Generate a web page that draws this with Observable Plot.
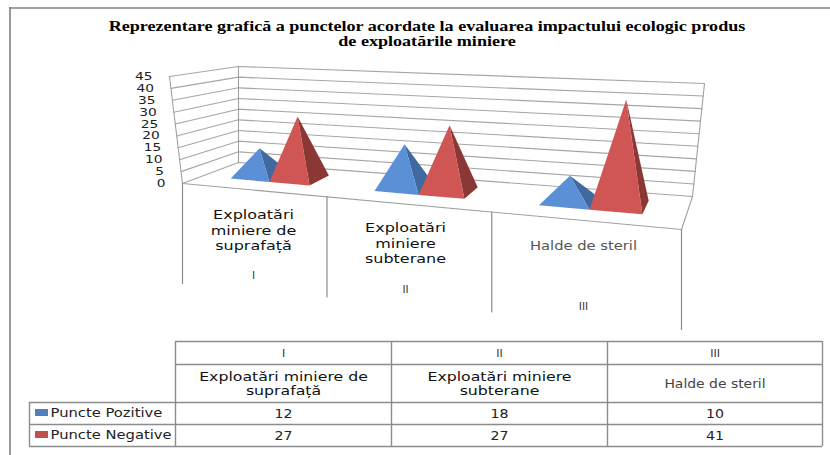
<!DOCTYPE html>
<html><head><meta charset="utf-8">
<style>html,body{margin:0;padding:0;background:#fff}svg{display:block}</style>
<script src="https://cdn.jsdelivr.net/npm/d3@7"></script>
<script src="https://cdn.jsdelivr.net/npm/@observablehq/plot@0.6"></script>
</head><body><script>
const categories = ["Exploatări miniere de suprafață", "Exploatări miniere subterane", "Halde de steril"];
const axisLabels = ["Exploatări\nminiere de\nsuprafață", "Exploatări\nminiere\nsubterane", "Halde de steril"];
const tableLabels = ["Exploatări miniere de\nsuprafață", "Exploatări miniere\nsubterane", "Halde de steril"];
const romans = ["I", "II", "III"];
const seriesNames = ["Puncte Pozitive", "Puncte Negative"];
const pozitive = [12, 18, 10];
const negative = [27, 27, 41];
const valueTicks = [0, 5, 10, 15, 20, 25, 30, 35, 40, 45];
const title = "Reprezentare grafică a punctelor acordate la evaluarea impactului ecologic produs\nde exploatările miniere";

// 3D chart box corners on the page (oblique perspective view)
const box = {
  fl: [182, 183], fr: [681, 229], bl: [238, 162], br: [692, 196],
  tfl: [169, 76], tfr: [688, 103], tbl: [238, 66], tbr: [704, 83]
};
const vMax = 45;
const lerp = (a, b, t) => [a[0] + (b[0] - a[0]) * t, a[1] + (b[1] - a[1]) * t];
// c: category position 0..3, d: depth 0..1, w: value
function project(c, d, w) {
  const t = c / 3, u = 0.815 * t / (1 - 0.185 * t), h = w / vMax;
  const floor = lerp(lerp(box.fl, box.fr, u), lerp(box.bl, box.br, u), d);
  const top = lerp(lerp(box.tfl, box.tfr, u), lerp(box.tbl, box.tbr, u), d);
  return lerp(floor, top, h);
}
const P = (c, d, w, extra) => { const [x, y] = project(c, d, w); return {x, y, ...extra}; };

// gridlines and box outline
const gridPts = valueTicks.flatMap(v => [P(0, 0, v, {v}), P(0, 1, v, {v}), P(3, 1, v, {v})]);
const outline = [[P(0,1,0), P(0,1,vMax)], [P(0,0,0), P(0,0,vMax)], [P(3,1,0), P(3,1,vMax)],
                 [P(0,0,0), P(3,0,0), P(3,1,0)]]
  .flatMap((seg, i) => seg.map(p => ({...p, i})));
const dividers = [0, 1, 2, 3].flatMap(c => { const p = P(c, 0, 0); return [{...p, c}, {x: p.x, y: p.y + 100, c}]; });

// pyramids
const gap = 0.215, bw = 0.282, d0 = 0.35, d1 = 0.77;
const colors = {front: ["#5b90d6", "#cf5654"], side: ["#3f699f", "#8b3735"]};
const faces = [];
categories.forEach((_, i) => {
  [pozitive[i], negative[i]].forEach((val, s) => {
    const c0 = i + gap + s * bw, c1 = c0 + bw, cm = (c0 + c1) / 2, dm = (d0 + d1) / 2;
    const apex = P(cm, dm, val), fl = P(c0, d0, 0), fr = P(c1, d0, 0), br = P(c1, d1, 0);
    const add = (pts, fill, key) => pts.forEach(p => faces.push({...p, key: `${i}-${s}-${key}`, fill}));
    add([fr, br, apex], colors.side[s], "r");
    add([fl, fr, apex], colors.front[s], "f");
  });
});

// data table
const colX = [175, 391, 607, 822], rowY = [341, 364, 402, 424, 446], legendX = 29;
const gray = "#8c8c8c";
const hLines = [
  {x1: colX[0], x2: colX[3], y: rowY[0]}, {x1: colX[0], x2: colX[3], y: rowY[1]},
  {x1: legendX, x2: colX[3], y: rowY[2]}, {x1: legendX, x2: colX[3], y: rowY[3]},
  {x1: legendX, x2: colX[3], y: rowY[4]}
];
const vLines = [
  {x: legendX, y1: rowY[2], y2: rowY[4]},
  ...colX.map(x => ({x, y1: rowY[0], y2: rowY[4]}))
];
const romanCells = [], labelCells = [], valueCells = [];
categories.forEach((_, i) => {
  const x = (colX[i] + colX[i + 1]) / 2;
  romanCells.push({x, y: (rowY[0] + rowY[1]) / 2, t: romans[i]});
  labelCells.push({x, y: (rowY[1] + rowY[2]) / 2, t: tableLabels[i], fs: i == 2 ? 11.5 : 13, f: i == 2 ? "#444" : "#111"});
  valueCells.push({x, y: (rowY[2] + rowY[3]) / 2, t: String(pozitive[i])});
  valueCells.push({x, y: (rowY[3] + rowY[4]) / 2, t: String(negative[i])});
});
const legendRows = seriesNames.map((n, i) => ({n, y: (rowY[2 + i] + rowY[3 + i]) / 2, fill: ["#4f81bd", "#c0504d"][i]}));

const axisPos = [
  {x: 253, y: 229, ry: 275, f: "#111", fs: 12.5}, {x: 405, y: 242, ry: 289, f: "#111", fs: 12.5}, {x: 583, y: 245, ry: 306, f: "#555", fs: 11.5}
].map((p, i) => ({...p, t: axisLabels[i], r: romans[i]}));

const plot = Plot.plot({
  width: 830, height: 455, margin: 0,
  x: {type: "linear", domain: [0, 830], range: [0, 830], axis: null},
  y: {type: "linear", domain: [0, 455], range: [0, 455], axis: null},
  style: {background: "#fff"},
  marks: [
    // page frame
    Plot.ruleY([7.5], {x1: 9, x2: 830, stroke: "#808080", strokeWidth: 1.6}),
    Plot.ruleX([9.5], {y1: 7, y2: 455, stroke: "#808080", strokeWidth: 1.6}),
    // title
    Plot.text([title], {x: 426.5, y: 33, text: d => d, fontFamily: "Liberation Serif", fontWeight: "bold",
      fontSize: 13.6, lineHeight: 1.12, fill: "#000", className: "st133"}),
    // 3D box
    Plot.line(gridPts, {x: "x", y: "y", z: "v", stroke: "#a6a6a6", strokeWidth: 1.1}),
    Plot.line(outline, {x: "x", y: "y", z: "i", stroke: "#a0a0a0", strokeWidth: 1.1}),
    Plot.line(dividers, {x: "x", y: "y", z: "c", stroke: "#8c8c8c", strokeWidth: 1.2}),
    // pyramids
    Plot.line(faces, {x: "x", y: "y", z: "key", fill: "fill", stroke: "none", curve: "linear-closed"}),
    // value axis
    Plot.text(valueTicks, {
      x: v => project(0, 0, v)[0] - 17, y: v => project(0, 0, v)[1],
      text: d => String(d), textAnchor: "end", fontFamily: "DejaVu Sans", fontSize: 11, fill: "#222", className: "st125"}),
    // category axis
    Plot.text(axisPos, {x: "x", y: "y", text: "t", fontFamily: "DejaVu Sans", fontSize: "fs", lineHeight: 1.27, fill: "f", className: "st128"}),
    Plot.text(axisPos, {x: "x", y: "ry", text: "r", fontFamily: "DejaVu Sans", fontSize: 10.5, fill: "#333"}),
    // table
    Plot.ruleY(hLines, {x1: "x1", x2: "x2", y: "y", stroke: gray, strokeWidth: 1.4}),
    Plot.ruleX(vLines, {x: "x", y1: "y1", y2: "y2", stroke: gray, strokeWidth: 1.4}),
    Plot.text(romanCells, {x: "x", y: "y", text: "t", fontSize: 11, fontFamily: "DejaVu Sans", fill: "#333"}),
    Plot.text(labelCells, {x: "x", y: "y", text: "t", fontSize: "fs", fontFamily: "DejaVu Sans", lineHeight: 1.1, fill: "f", className: "st121"}),
    Plot.text(valueCells, {x: "x", y: "y", text: "t", fontSize: 12.5, fontFamily: "DejaVu Sans", fill: "#222", className: "st113"}),
    Plot.rect(legendRows, {x1: 35, x2: 48, y1: d => d.y - 4, y2: d => d.y + 3, fill: "fill"}),
    Plot.text(legendRows, {x: 50, y: "y", text: "n", textAnchor: "start", fontFamily: "DejaVu Sans", fontSize: 11.8, fill: "#222", className: "st125"})
  ]
});
document.body.appendChild(plot);

// the reference's text is stretched horizontally: widen the glyphs by the factor in the class name
function stretch() {
  plot.querySelectorAll("[class*='st1']").forEach(g => {
    const m = /st(\d+)/.exec(g.getAttribute("class"));
    if (!m) return;
    const k = +m[1] / 100;
    g.querySelectorAll("text").forEach(t => {
      const spans = t.querySelectorAll("tspan");
      (spans.length ? [...spans] : [t]).forEach(el => {
        const len = el.getComputedTextLength();
        el.setAttribute("textLength", len * k);
        el.setAttribute("lengthAdjust", "spacingAndGlyphs");
      });
    });
  });
}
stretch();
</script></body></html>
